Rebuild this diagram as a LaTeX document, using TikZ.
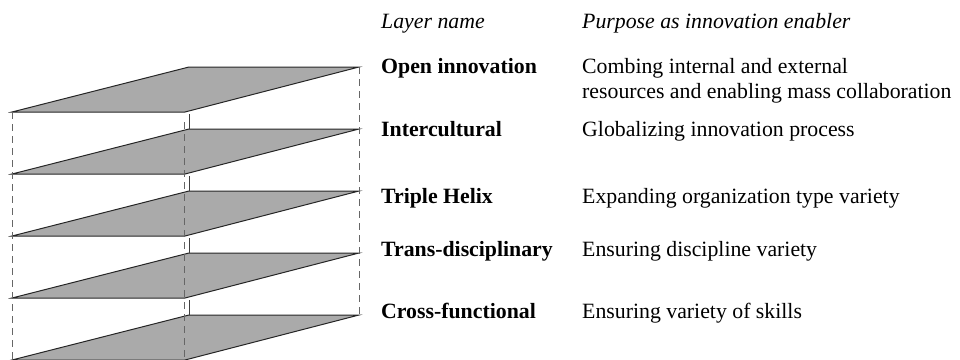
\documentclass[tikz,border=0pt]{standalone}
\usepackage{fontspec}
\setmainfont{Liberation Serif}
\definecolor{layergray}{RGB}{170,170,170}
\tikzset{
	layer/.style={draw=black!85, fill=layergray, line width=1pt, line join=miter},
	backedge/.style={draw=black!75, line width=1pt},
	hidden/.style={draw=black!60, line width=1pt, dash pattern=on 7pt off 5pt},
	colhead/.style={anchor=base west, inner sep=0pt, font=\fontsize{21.8}{25}\selectfont\itshape},
	layername/.style={anchor=base west, inner sep=0pt, font=\fontsize{21.8}{25}\selectfont\bfseries},
	purpose/.style={anchor=base west, inner sep=0pt, align=left, font=\fontsize{21.8}{25}\selectfont}
}
\begin{document}
\begin{tikzpicture}[x=1pt,y=-1pt]
		\useasboundingbox (0,0) rectangle (960,359);
		\foreach \t in {67,129,191,253,315}
			\draw[layer] (12,\t+45) -- (185,\t+45) -- (359,\t) -- (189,\t) -- cycle;
		\foreach \t in {129,191,253,315}
			\draw[backedge] (189,\t-15) -- (189,\t);
		\draw[hidden] (12,112) -- (12,359);
		\draw[hidden] (184,122) -- (184,359);
		\draw[hidden] (359,67) -- (359,315);
		\node[colhead] (namehead) at (381,28) {Layer name};
		\node[colhead] (purposehead) at (582,28) {Purpose as innovation enabler};
		\node[layername] (open) at (381,73) {Open innovation};
		\node[purpose] (openpurpose) at (582,98) {Combing internal and external\\resources and enabling mass collaboration};
		\node[layername] (inter) at (381,136) {Intercultural};
		\node[purpose] (interpurpose) at (582,136) {Globalizing innovation process};
		\node[layername] (helix) at (381,203) {Triple Helix};
		\node[purpose] (helixpurpose) at (582,203) {Expanding organization type variety};
		\node[layername] (trans) at (381,256) {Trans-disciplinary};
		\node[purpose] (transpurpose) at (582,256) {Ensuring discipline variety};
		\node[layername] (cross) at (381,318) {Cross-functional};
		\node[purpose] (crosspurpose) at (582,318) {Ensuring variety of skills};
	\end{tikzpicture}
\end{document}
